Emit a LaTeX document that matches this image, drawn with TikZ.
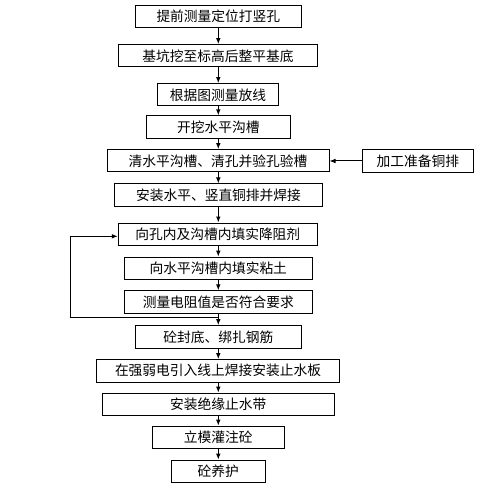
\documentclass[tikz,border=0pt]{standalone}
\usepackage{fontspec}
\newfontfamily\cjk{Noto Sans CJK SC}
\usetikzlibrary{arrows.meta}
\begin{document}
\begin{tikzpicture}[x=0.75pt,y=-0.75pt,
  box/.style={draw,line width=0.75pt,inner sep=0pt,font=\cjk\fontsize{10.3}{12}\selectfont,minimum height=16.8pt},
  bw/.style={minimum width={0.75*#1pt}},
  arr/.style={line width=0.75pt,-{Latex[length=4.5pt,width=3.5pt]}}]
\useasboundingbox (0,0) rectangle (480,488);
\node[box,bw=166] (b1) at (218.3,16.3) {提前测量定位打竖孔};
\node[box,bw=198.6] (b2) at (218,55.8) {基坑挖至标高后整平基底};
\node[box,bw=121.4] (b3) at (218,94.8) {根据图测量放线};
\node[box,bw=144] (b4) at (218.3,127) {开挖水平沟槽};
\node[box,bw=222] (b5) at (218,160.8) {清水平沟槽、清孔并验孔验槽};
\node[box,bw=111] (s) at (417.8,161) {加工准备铜排};
\node[box,bw=208.4] (b6) at (218.5,195.2) {安装水平、竖直铜排并焊接};
\node[box,bw=199] (b7) at (217.8,234.2) {向孔内及沟槽内填实降阻剂};
\node[box,bw=188] (b8) at (218.3,268.3) {向水平沟槽内填实粘土};
\node[box,bw=188] (b9) at (218.3,302) {测量电阻值是否符合要求};
\node[box,bw=166] (b10) at (218.3,336.8) {砼封底、绑扎钢筋};
\node[box,bw=243.4] (b11) at (218,370.8) {在强弱电引入线上焊接安装止水板};
\node[box,bw=232] (b12) at (218.3,404.3) {安装绝缘止水带};
\node[box,bw=132] (b13) at (218.3,437.3) {立模灌注砼};
\node[box,bw=94] (b14) at (218.3,471.3) {砼养护};
\foreach \a/\b in {b1/b2,b2/b3,b3/b4,b4/b5,b5/b6,b6/b7,b7/b8,b8/b9,b9/b10,b10/b11,b11/b12,b12/b13,b13/b14}
  \draw[arr] (\a.south -| 218.3,0) -- (\b.north -| 218.3,0);
\draw[arr] (s.west) -- (b5.east |- s.west);
\coordinate (j) at (218.3,317.7);
\draw[arr] (j) -- (70,317.7) -- (70,236.3) -- (b7.west |- 0,236.3);
\end{tikzpicture}
\end{document}
